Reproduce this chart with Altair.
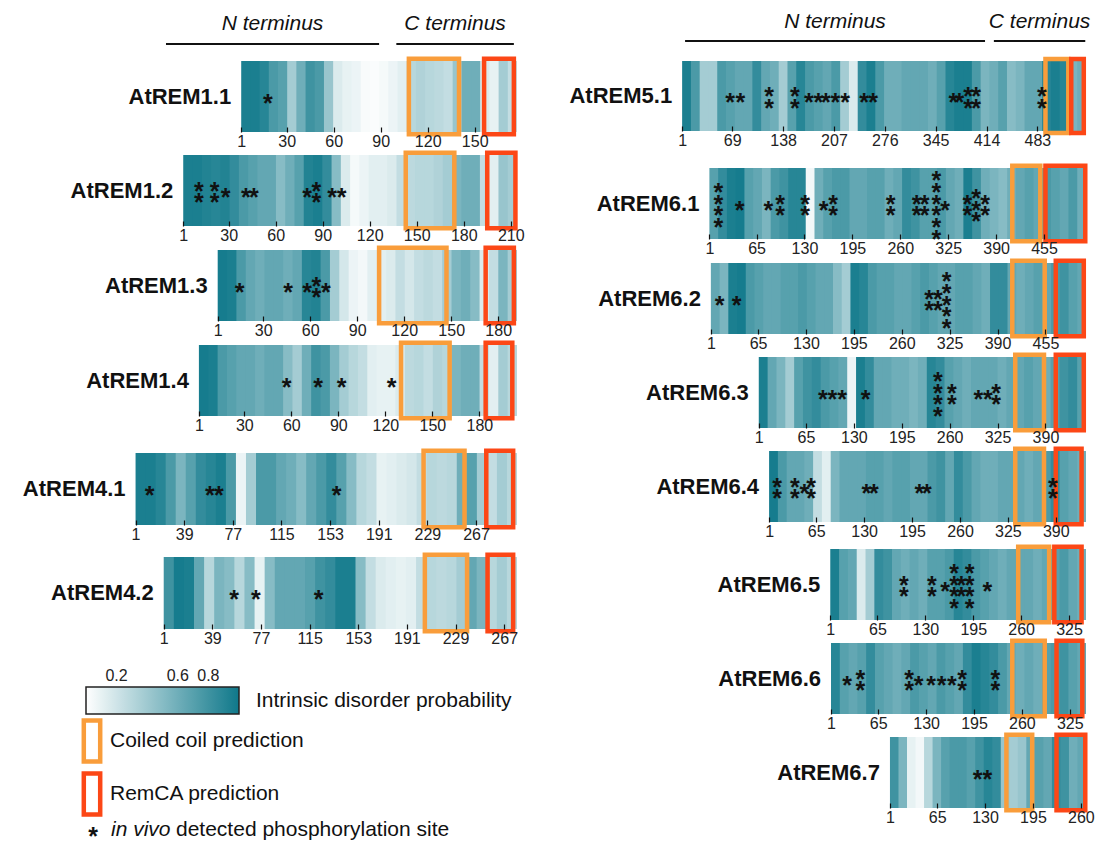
import altair as alt
import pandas as pd

# ---------------- data ----------------
LEFT = ["AtREM1.1", "AtREM1.2", "AtREM1.3", "AtREM1.4", "AtREM4.1", "AtREM4.2"]
RIGHT = ["AtREM5.1", "AtREM6.1", "AtREM6.2", "AtREM6.3", "AtREM6.4",
         "AtREM6.5", "AtREM6.6", "AtREM6.7"]

LENGTHS = {"AtREM1.1": 176, "AtREM1.2": 213, "AtREM1.3": 191, "AtREM1.4": 203,
           "AtREM4.1": 298, "AtREM4.2": 276, "AtREM5.1": 548, "AtREM6.1": 511,
           "AtREM6.2": 509, "AtREM6.3": 444, "AtREM6.4": 430, "AtREM6.5": 347,
           "AtREM6.6": 346, "AtREM6.7": 266}

# intrinsic disorder probability, equal-width segments from N to C terminus
DISORDER = {
    "AtREM1.1": [0.95, 0.95, 0.9, 0.75, 0.7, 0.38, 0.6, 0.8, 0.75, 0.43, 0.15, 0.1, 0.08, 0.03, 0.02,
                 0.04, 0.08, 0.12, 0.3, 0.33, 0.3, 0.28, 0.25, 0.43, 0.6, 0.6, 0.15, 0.1, 0.38, 0.25],
    "AtREM1.2": [0.95, 0.95, 0.92, 0.9, 0.92, 0.85, 0.75, 0.7, 0.65, 0.65, 0.5, 0.6, 0.7, 0.92, 0.95,
                 0.85, 0.5, 0.15, 0.04, 0.08, 0.12, 0.12, 0.15, 0.25, 0.28, 0.3, 0.3, 0.33, 0.38, 0.55,
                 0.6, 0.6, 0.25, 0.12, 0.43, 0.38],
    "AtREM1.3": [0.97, 0.95, 0.75, 0.65, 0.6, 0.65, 0.65, 0.6, 0.65, 0.9, 0.92, 0.75, 0.38, 0.18, 0.08,
                 0.05, 0.12, 0.12, 0.15, 0.25, 0.18, 0.25, 0.28, 0.25, 0.38, 0.55, 0.6, 0.5, 0.15, 0.25,
                 0.55, 0.38],
    "AtREM1.4": [0.97, 0.95, 0.75, 0.7, 0.65, 0.65, 0.6, 0.65, 0.65, 0.5, 0.38, 0.6, 0.8, 0.75, 0.55,
                 0.38, 0.3, 0.25, 0.12, 0.1, 0.1, 0.15, 0.28, 0.3, 0.25, 0.33, 0.3, 0.55, 0.6, 0.6,
                 0.25, 0.12, 0.38, 0.3],
    "AtREM4.1": [0.95, 0.95, 0.9, 0.75, 0.55, 0.7, 0.85, 0.9, 0.95, 0.75, 0.08, 0.38, 0.75, 0.75, 0.65,
                 0.6, 0.5, 0.65, 0.75, 0.85, 0.7, 0.5, 0.3, 0.25, 0.1, 0.12, 0.15, 0.18, 0.25, 0.3,
                 0.28, 0.3, 0.6, 0.7, 0.38, 0.25, 0.38, 0.3],
    "AtREM4.2": [0.8, 0.97, 0.95, 0.65, 0.3, 0.55, 0.5, 0.3, 0.5, 0.1, 0.5, 0.65, 0.65, 0.65, 0.7, 0.8,
                 0.85, 0.95, 0.95, 0.5, 0.25, 0.15, 0.12, 0.1, 0.12, 0.25, 0.3, 0.28, 0.3, 0.38, 0.65,
                 0.55, 0.3, 0.38, 0.3],
    "AtREM5.1": [0.95, 0.75, 0.38, 0.38, 0.75, 0.7, 0.65, 0.65, 0.85, 0.65, 0.6, 0.38, 0.7, 0.9, 0.75,
                 0.7, 0.65, 0.75, 0.38, 0.15, 0.85, 0.95, 0.75, 0.6, 0.6, 0.65, 0.65, 0.65, 0.6, 0.7,
                 0.9, 0.95, 0.95, 0.75, 0.55, 0.6, 0.7, 0.5, 0.55, 0.65, 0.65, 0.9, 0.95, 0.9, 0.55,
                 0.6],
    "AtREM6.1": [0.7, 0.85, 0.95, 0.97, 0.7, 0.65, 0.55, 0.75, 0.8, 0.9, 0.9, 0.05, 0.6, 0.7, 0.75,
                 0.75, 0.65, 0.65, 0.7, 0.7, 0.6, 0.65, 0.85, 0.8, 0.7, 0.7, 0.75, 0.65, 0.6, 0.95, 0.8,
                 0.6, 0.55, 0.5, 0.6, 0.65, 0.7, 0.65, 0.75, 0.7, 0.65, 0.75, 0.6],
    "AtREM6.2": [0.65, 0.55, 0.95, 0.97, 0.75, 0.7, 0.65, 0.65, 0.7, 0.7, 0.75, 0.7, 0.65, 0.65, 0.5,
                 0.38, 0.95, 0.9, 0.75, 0.7, 0.7, 0.65, 0.65, 0.7, 0.75, 0.7, 0.65, 0.65, 0.7, 0.7,
                 0.65, 0.6, 0.85, 0.85, 0.65, 0.6, 0.65, 0.7, 0.65, 0.75, 0.8, 0.7, 0.65],
    "AtREM6.3": [0.95, 0.65, 0.55, 0.38, 0.7, 0.8, 0.85, 0.75, 0.7, 0.65, 0.08, 0.95, 0.85, 0.65, 0.65,
                 0.6, 0.6, 0.55, 0.6, 0.9, 0.85, 0.7, 0.65, 0.6, 0.65, 0.65, 0.65, 0.6, 0.65, 0.65,
                 0.7, 0.65, 0.6, 0.7, 0.8, 0.85, 0.7],
    "AtREM6.4": [0.97, 0.75, 0.65, 0.65, 0.6, 0.25, 0.12, 0.55, 0.65, 0.65, 0.65, 0.7, 0.7, 0.65, 0.7,
                 0.7, 0.65, 0.65, 0.75, 0.8, 0.65, 0.85, 0.75, 0.65, 0.6, 0.6, 0.65, 0.65, 0.65, 0.6,
                 0.65, 0.75, 0.85, 0.7, 0.65, 0.6],
    "AtREM6.5": [0.95, 0.7, 0.65, 0.15, 0.38, 0.85, 0.8, 0.65, 0.6, 0.65, 0.6, 0.7, 0.7, 0.75, 0.9,
                 0.85, 0.75, 0.7, 0.65, 0.6, 0.65, 0.65, 0.65, 0.6, 0.65, 0.7, 0.75, 0.65, 0.6],
    "AtREM6.6": [0.9, 0.7, 0.65, 0.7, 0.85, 0.7, 0.65, 0.6, 0.65, 0.75, 0.7, 0.65, 0.75, 0.7, 0.65,
                 0.85, 0.95, 0.9, 0.85, 0.75, 0.65, 0.6, 0.65, 0.6, 0.7, 0.75, 0.8, 0.7, 0.65],
    "AtREM6.7": [0.8, 0.55, 0.1, 0.05, 0.3, 0.55, 0.7, 0.75, 0.75, 0.7, 0.8, 0.9, 0.85, 0.43, 0.38,
                 0.43, 0.65, 0.7, 0.65, 0.85, 0.8, 0.6, 0.65],
}

COILED = {"AtREM1.1": (108, 140), "AtREM1.2": (143, 174), "AtREM1.3": (104, 147),
          "AtREM1.4": (130, 161), "AtREM4.1": (226, 258), "AtREM4.2": (205, 238),
          "AtREM5.1": (494, 525), "AtREM6.1": (412, 450), "AtREM6.2": (410, 454),
          "AtREM6.3": (349, 388), "AtREM6.4": (335, 374), "AtREM6.5": (256, 298),
          "AtREM6.6": (247, 291), "AtREM6.7": (159, 194)}
REMCA = {"AtREM1.1": (156, 175), "AtREM1.2": (195, 213), "AtREM1.3": (172, 190),
         "AtREM1.4": (184, 201), "AtREM4.1": (275, 296), "AtREM4.2": (254, 274),
         "AtREM5.1": (529, 546), "AtREM6.1": (457, 511), "AtREM6.2": (469, 507),
         "AtREM6.3": (404, 442), "AtREM6.4": (390, 425), "AtREM6.5": (305, 342),
         "AtREM6.6": (307, 342), "AtREM6.7": (227, 266)}

# in vivo phosphorylation sites (repeated residue = stacked asterisks)
PHOSPHO = {
    "AtREM1.1": [18],
    "AtREM1.2": [11, 11, 21, 21, 28, 41, 46, 80, 86, 86, 96, 102],
    "AtREM1.3": [15, 46, 58, 64, 64, 70],
    "AtREM1.4": [57, 77, 92, 124],
    "AtREM4.1": [12, 59, 66, 158],
    "AtREM4.2": [56, 73, 122],
    "AtREM5.1": [66, 80, 119, 119, 154, 154, 173, 186, 196, 209, 222, 248, 260, 369, 377,
                 389, 389, 400, 400, 489, 489],
    "AtREM6.1": [13, 13, 13, 13, 42, 81, 97, 97, 131, 131, 156, 169, 169, 247, 247, 282, 282,
                 293, 293, 309, 309, 309, 309, 309, 309, 321, 351, 351, 363, 363, 363, 375, 375],
    "AtREM6.2": [13, 36, 297, 297, 309, 309, 321, 321, 321, 321, 321],
    "AtREM6.3": [88, 101, 114, 146, 244, 244, 244, 244, 263, 263, 299, 312, 323, 323],
    "AtREM6.4": [12, 12, 36, 36, 49, 58, 58, 133, 143, 205, 215, 386, 386],
    "AtREM6.5": [101, 101, 139, 139, 157, 169, 169, 169, 169, 179, 179, 190, 190, 190, 190, 214],
    "AtREM6.6": [23, 41, 41, 107, 107, 120, 137, 151, 165, 179, 179, 224, 224],
    "AtREM6.7": [120, 133],
}

T1 = [1, 30, 60, 90, 120, 150, 180]
T4 = [1, 39, 77, 115, 153, 191, 229, 267]
T5 = [1, 69, 138, 207, 276, 345, 414, 483]
T6 = [1, 65, 130, 195, 260, 325, 390, 455]
TICKS = {"AtREM1.1": T1[:6], "AtREM1.2": T1 + [210], "AtREM1.3": T1, "AtREM1.4": T1,
         "AtREM4.1": T4, "AtREM4.2": T4, "AtREM5.1": T5, "AtREM6.1": T6, "AtREM6.2": T6,
         "AtREM6.3": T6[:7], "AtREM6.4": T6[:7], "AtREM6.5": T6[:6], "AtREM6.6": T6[:6],
         "AtREM6.7": T6[:5]}

HEADER_LEFT = {"label": ["N terminus", "C terminus"], "start": [-47, 100], "end": [89, 175]}
HEADER_RIGHT = {"label": ["N terminus", "C terminus"], "start": [5, 424], "end": [412, 548]}

BOX_TYPES = ["Coiled coil prediction", "RemCA prediction"]
LEGEND_VALUES = [0.2, 0.6, 0.8]

# ---------------- styling / layout ----------------
FONT = "Liberation Sans"
INK = "#111111"
ORANGE = "#f99d3b"
RED = "#fc4716"
TEAL_RANGE = ["#ffffff", "#0f788a"]
PX_PER_RES = {"AtREM1.1": 1.567, "AtREM1.2": 1.567, "AtREM1.3": 1.567, "AtREM1.4": 1.567,
              "AtREM4.1": 1.28, "AtREM4.2": 1.28}
COL = {"L": dict(width=390, strip_end=386), "R": dict(width=415, strip_end=410)}
# (strip height, row pitch) for each panel
ROWS = {"AtREM1.1": (71, 94), "AtREM1.2": (71, 95), "AtREM1.3": (71, 95), "AtREM1.4": (71, 108),
        "AtREM4.1": (72, 104), "AtREM4.2": (72, 72),
        "AtREM5.1": (70, 107), "AtREM6.1": (71, 95), "AtREM6.2": (71, 94), "AtREM6.3": (71, 94),
        "AtREM6.4": (71, 98), "AtREM6.5": (71, 94), "AtREM6.6": (71, 94), "AtREM6.7": (71, 71)}

CSCALE = alt.Scale(domain=[0, 1], range=TEAL_RANGE, interpolate="rgb")
SSCALE = alt.Scale(domain=BOX_TYPES, range=[ORANGE, RED])

COLOR_LEGEND = alt.Legend(
    orient="none", legendX=-45, legendY=626, direction="horizontal",
    gradientLength=153, gradientThickness=27, gradientStrokeColor="#222222",
    gradientStrokeWidth=1.5, values=LEGEND_VALUES, labelFontSize=16, labelColor="#222222",
    labelOffset={"expr": "-46"}, labelFont=FONT, title="Intrinsic disorder probability",
    titleOrient="right", titleFontSize=21, titleFontWeight="normal", titleColor=INK,
    titleFont=FONT, titlePadding=16, titleBaseline="middle", titleAnchor="middle",
    titleLimit=500, padding=0)

STROKE_LEGEND = alt.Legend(
    orient="none", legendX=-62, legendY=657, direction="vertical", title=None,
    symbolType="M-0.4,-1H0.4V1H-0.4Z", symbolSize=1681, symbolStrokeWidth=4.5,
    labelFontSize=21, labelColor=INK, labelFont=FONT, labelLimit=500,
    rowPadding={"expr": "-18"}, labelOffset={"expr": "-5"}, padding=0)


def panel(name, col, header=None, extra=None, legends=True):
    L = LENGTHS[name]
    k = PX_PER_RES.get(name, 0.737)
    H, P = ROWS[name]
    W = COL[col]["width"]
    d1 = L + 1 + (W - COL[col]["strip_end"]) / k
    xs = alt.Scale(domain=[d1 - W / k, d1], nice=False, zero=False)
    ys = alt.Scale(domain=[1 - P / H, 1], nice=False, zero=False)
    ax = alt.Axis(values=TICKS[name], domain=False, grid=False, title=None, offset=-(P - H) - 5,
                  tickSize=5, tickColor="#111111", tickWidth=1.2, labelFontSize=16,
                  labelColor="#222222", labelPadding=1, labelFlush=False, labelOverlap=False,
                  labelFont=FONT, zindex=1)

    vals = DISORDER[name]
    n = len(vals)
    w = L / n
    cells = pd.DataFrame({
        "start": [1 + i * w for i in range(n)],
        "end": [1 + (i + 1) * w + (0.35 * w if i < n - 1 else 0) for i in range(n)],
        "value": vals,
    })
    heat = alt.Chart(cells).mark_rect().encode(
        x=alt.X("start:Q", scale=xs, axis=ax),
        x2="end:Q",
        y=alt.YDatum(0, scale=ys, axis=None),
        y2=alt.Y2Datum(1),
        color=alt.Color("value:Q", scale=CSCALE, legend=COLOR_LEGEND if legends else None),
    )

    boxes_df = pd.DataFrame({
        "start": [COILED[name][0], REMCA[name][0]],
        "end": [COILED[name][1], REMCA[name][1]],
        "type": BOX_TYPES,
    })
    boxes = alt.Chart(boxes_df).mark_rect(filled=False, strokeWidth=4.5).encode(
        x=alt.X("start:Q", scale=xs, axis=ax),
        x2="end:Q",
        y=alt.YDatum(-0.03, scale=ys, axis=None),
        y2=alt.Y2Datum(1.03),
        stroke=alt.Stroke("type:N", scale=SSCALE, legend=STROKE_LEGEND if legends else None),
    )

    sites = pd.DataFrame({"res": PHOSPHO[name]})
    stars = alt.Chart(sites).transform_window(
        rank="row_number()", groupby=["res"]
    ).transform_joinaggregate(
        n="count()", groupby=["res"]
    ).transform_calculate(
        ypos="0.5 + ((datum.n + 1) / 2 - datum.rank) * 0.165"
    ).mark_text(text="*", fontSize=25, fontWeight="bold", dy=7, color=INK, font=FONT).encode(
        x=alt.X("res:Q", scale=xs, axis=ax),
        y=alt.Y("ypos:Q", scale=ys, axis=None),
    )

    lab_df = pd.DataFrame({"name": [name], "first": [1], "mid": [0.5]})
    label = alt.Chart(lab_df).mark_text(
        align="right", dx=-10, fontSize=22, fontWeight="bold", color=INK, font=FONT
    ).encode(
        x=alt.X("first:Q", scale=xs, axis=ax),
        y=alt.Y("mid:Q", scale=ys, axis=None),
        text="name:N",
    )

    layers = [heat, boxes, stars, label]
    if header is not None:
        hdf = pd.DataFrame(header["data"])
        hdf["mid"] = (hdf["start"] + hdf["end"]) / 2
        layers.append(alt.Chart(hdf).mark_rule(strokeWidth=2, color=INK).encode(
            x=alt.X("start:Q", scale=xs, axis=ax), x2="end:Q",
            y=alt.value(header["line_y"])))
        layers.append(alt.Chart(hdf).mark_text(
            fontSize=21, fontStyle="italic", color=INK, font=FONT).encode(
            x=alt.X("mid:Q", scale=xs, axis=ax), y=alt.value(header["text_y"]),
            text="label:N"))
    if extra is not None:
        layers.extend(extra)
    return alt.layer(*layers).properties(width=W, height=P)


# phosphorylation-site legend line (mixed italic text)
legend_line = [
    alt.Chart(pd.DataFrame({"t": ["*"]})).mark_text(
        fontSize=25, fontWeight="bold", dy=7, color=INK, font=FONT).encode(
        x=alt.value(-38), y=alt.value(273), text="t:N"),
    alt.Chart(pd.DataFrame({"t": ["in vivo"]})).mark_text(
        fontSize=21, fontStyle="italic", align="left", color=INK, font=FONT).encode(
        x=alt.value(-20), y=alt.value(273), text="t:N"),
    alt.Chart(pd.DataFrame({"t": ["detected phosphorylation site"]})).mark_text(
        fontSize=21, align="left", color=INK, font=FONT).encode(
        x=alt.value(45), y=alt.value(273), text="t:N"),
]

INNER = dict(x="independent", y="independent", color="shared", stroke="shared")
OUTER = dict(x="independent", y="independent", color="independent", stroke="independent")

left = alt.vconcat(
    panel("AtREM1.1", "L", header={"data": HEADER_LEFT, "line_y": -17, "text_y": -37}),
    panel("AtREM1.2", "L"), panel("AtREM1.3", "L"), panel("AtREM1.4", "L"),
    panel("AtREM4.1", "L"), panel("AtREM4.2", "L", extra=legend_line),
    spacing=0, bounds="flush").resolve_scale(**INNER)

right = alt.vconcat(
    panel("AtREM5.1", "R", header={"data": HEADER_RIGHT, "line_y": -20, "text_y": -39},
          legends=False),
    *[panel(p, "R", legends=False) for p in RIGHT[1:]],
    spacing=0, bounds="flush").resolve_scale(**INNER)

chart = alt.hconcat(left, right, spacing=44).resolve_scale(**OUTER).properties(
    padding={"left": 22, "top": 11, "right": 5, "bottom": 5}
).configure(font=FONT).configure_view(stroke="transparent", strokeWidth=0)

chart.save("out.html", embed_options={"renderer": "svg", "actions": False})
